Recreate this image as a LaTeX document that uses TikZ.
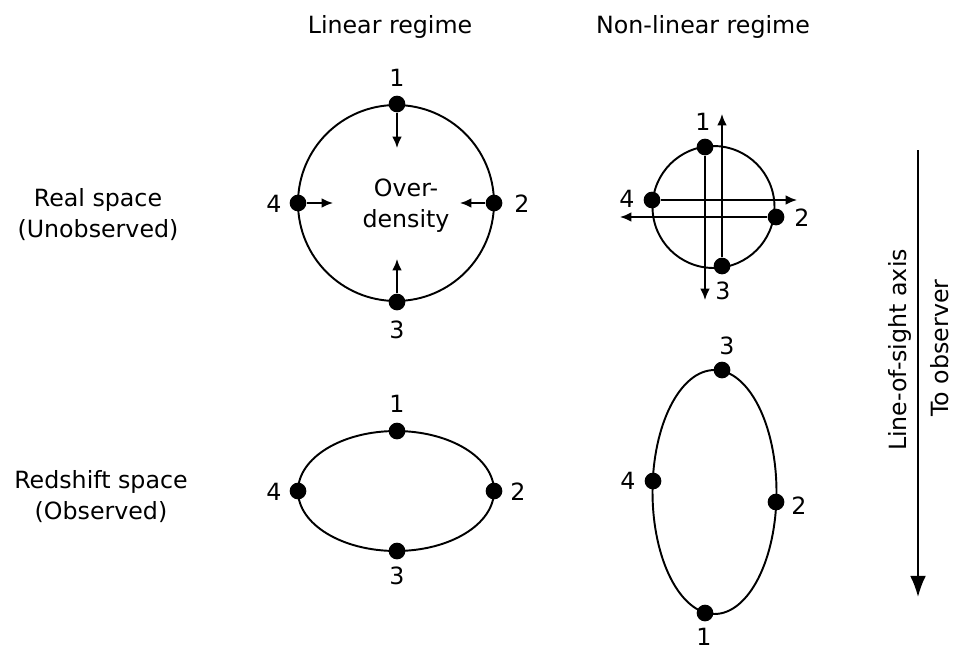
\documentclass[tikz,border=0pt]{standalone}
\usepackage{fontspec}
\setmainfont{DejaVu Sans}
\usetikzlibrary{arrows.meta}

\begin{document}
\begin{tikzpicture}[x=0.02cm,y=-0.02cm,every node/.style={font=\fontsize{13.5}{17.6}\selectfont},dot/.style={circle,fill,inner sep=0pt,minimum size=9.5pt},curve/.style={line width=1.1pt},flow/.style={line width=1pt,-{Latex[length=6.5pt,width=5.5pt]}},losarrow/.style={line width=1.1pt,-{Latex[length=12pt,width=9pt]}}]
\useasboundingbox (0,0) rectangle (953,650);
\node (linhead) at (390,27){Linear regime};\node (nonhead) at (703,27){Non-linear regime};
\node[align=center] (realhead) at (98,215){Real space\\(Unobserved)};
\node[align=center] (redhead) at (101,497){Redshift space\\(Observed)};
% linear regime, real space
\draw[curve] (396,203) circle[radius=1.96cm];
\node[align=center] (overd) at (406,206){Over-\\density};
\node[dot] (lr1) at (397,104){};\node[dot] (lr2) at (494,203){};\node[dot] (lr3) at (397,302){};\node[dot] (lr4) at (298,203){};
\coordinate (lr1e) at (397,148);\coordinate (lr2e) at (460,203);\coordinate (lr3e) at (397,259);\coordinate (lr4e) at (333,203);
\draw[flow] (lr1)--(lr1e);\draw[flow] (lr2)--(lr2e);\draw[flow] (lr3)--(lr3e);\draw[flow] (lr4)--(lr4e);
\node (lr1l) at (397,78){1};\node (lr2l) at (522,204){2};\node (lr3l) at (397,330){3};\node (lr4l) at (274,204){4};
% non-linear regime, real space
\draw[curve] (713.5,207) circle[radius=1.22cm];
\node[dot] (nr1) at (705,147){};\node[dot] (nr2) at (776,217){};\node[dot] (nr3) at (722,266){};\node[dot] (nr4) at (652,200){};
\coordinate (nr1e) at (705,300);\coordinate (nr2e) at (620,217);\coordinate (nr3e) at (722,114);\coordinate (nr4e) at (797,200);
\draw[flow] (nr1)--(nr1e);\draw[flow] (nr2)--(nr2e);\draw[flow] (nr3)--(nr3e);\draw[flow] (nr4)--(nr4e);
\node (nr1l) at (703,122){1};\node (nr2l) at (802,218){2};\node (nr3l) at (723,291){3};\node (nr4l) at (627,199){4};
% linear regime, redshift space
\draw[curve] (396,491) ellipse[x radius=1.96cm,y radius=1.2cm];
\node[dot] (lz1) at (397,431){};\node[dot] (lz2) at (494,491){};\node[dot] (lz3) at (397,551){};\node[dot] (lz4) at (298,491){};
\node (lz1l) at (397,404){1};\node (lz2l) at (518,492){2};\node (lz3l) at (397,576){3};\node (lz4l) at (274,492){4};
% non-linear regime, redshift space
\draw[curve] (714.5,492) ellipse[x radius=1.24cm,y radius=2.44cm];
\node[dot] (nz1) at (705,613){};\node[dot] (nz2) at (776,502){};\node[dot] (nz3) at (722,370){};\node[dot] (nz4) at (653,481){};
\node (nz1l) at (704,637){1};\node (nz2l) at (799,506){2};\node (nz3l) at (727,346){3};\node (nz4l) at (628,481){4};
% line of sight
\coordinate (lostop) at (918,150);\coordinate (losbot) at (918,597);
\draw[losarrow] (lostop)--(losbot);
\node[rotate=90] (losl) at (900,350){Line-of-sight axis};\node[rotate=90] (obsl) at (940,348){To observer};
\end{tikzpicture}
\end{document}
